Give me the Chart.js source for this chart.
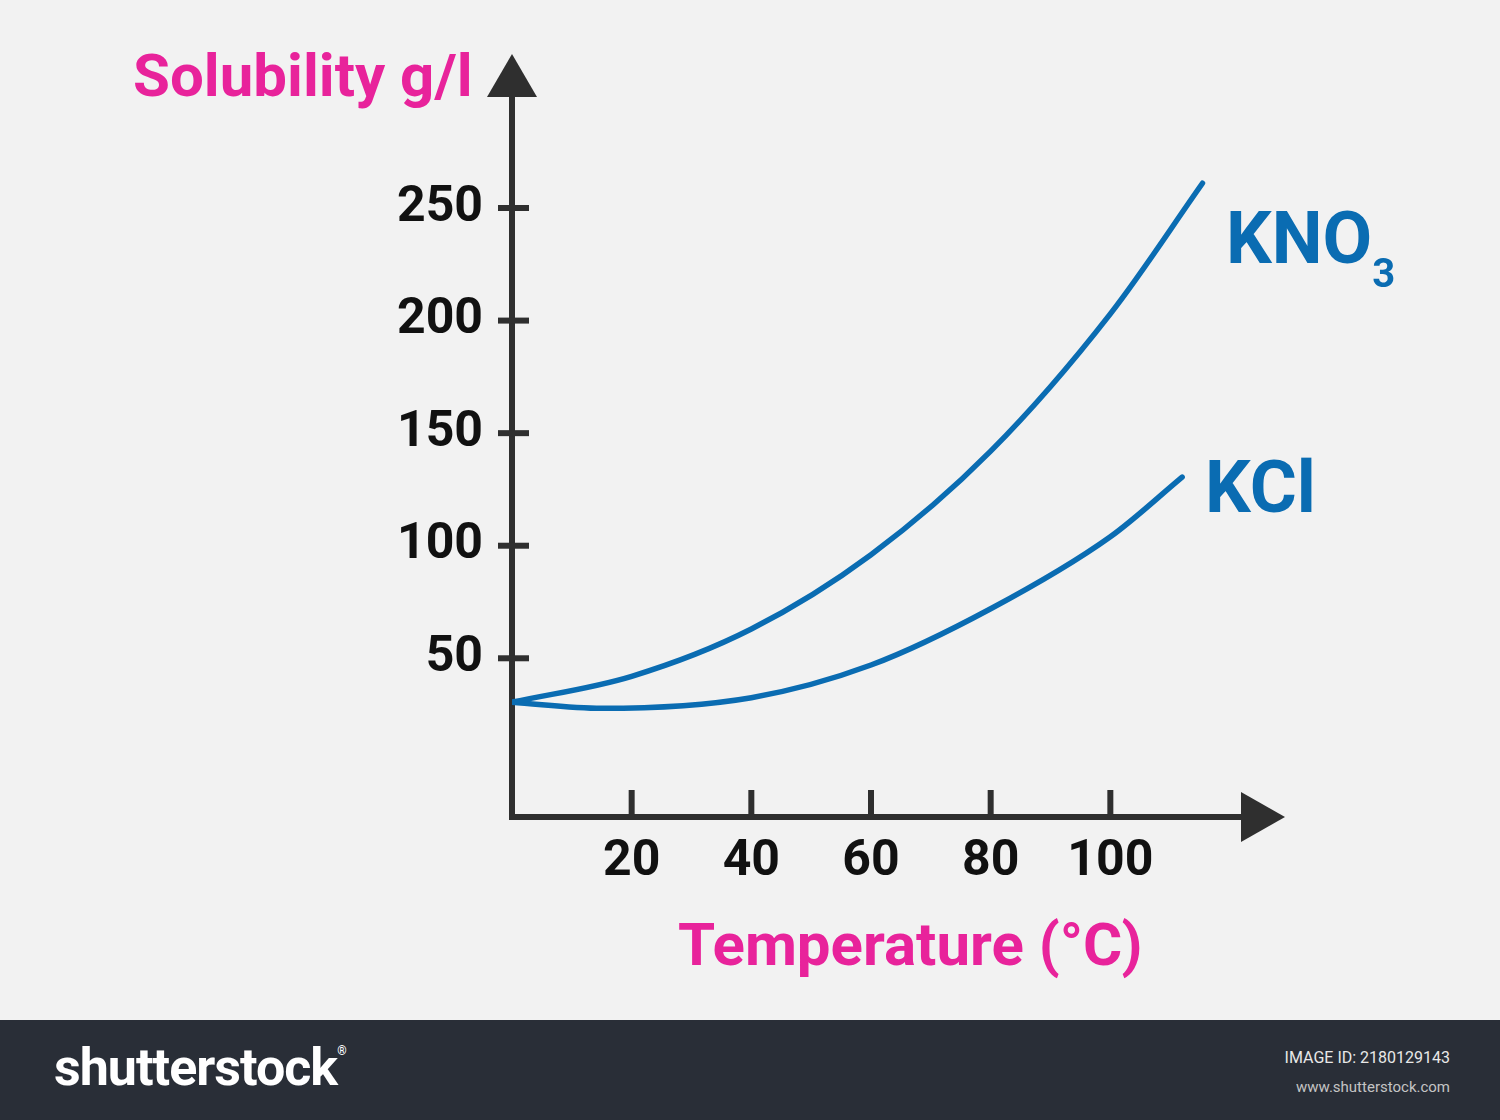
<!DOCTYPE html>
<html lang="en">
<head>
<meta charset="utf-8">
<title>Solubility curves</title>
<script src="https://cdn.jsdelivr.net/npm/chart.js@4.4.1/dist/chart.umd.min.js"></script>
<style>
    html, body {
        margin: 0;
        padding: 0;
        width: 1500px;
        height: 1120px;
        overflow: hidden;
        background: #f2f2f2;
        font-family: Roboto, "Noto Sans", sans-serif;
    }

    #quadro {
        position: relative;
        width: 1500px;
        height: 1020px;
    }

    #quadro canvas {
        position: absolute;
        left: 0;
        top: 0;
    }

    .rotulo {
        position: absolute;
        white-space: nowrap;
        font-weight: bold;
        line-height: 1;
    }

    .magenta { color: #e8239b; font-size: 60px; }
    .azul { color: #0a6cb2; font-size: 72px; }

    .sub3 {
        font-size: 40px;
        position: relative;
        top: 24px;
    }

    #rodape {
        position: relative;
        width: 1500px;
        height: 100px;
        background: #292e37;
        color: #fff;
    }

    #logo {
        position: absolute;
        left: 54px;
        top: 22px;
        font-size: 52px;
        font-weight: bold;
        letter-spacing: -1px;
        line-height: 1;
    }

    #logo sup { font-size: 12px; vertical-align: 30px; }

    .info {
        position: absolute;
        right: 50px;
        font-size: 16px;
        line-height: 1;
    }
</style>
</head>
<body>

<div id="quadro">
    <canvas id="graficoSolubilidade"></canvas>
    <div class="rotulo magenta" style="left:133px; top:46px;">Solubility g/l</div>
    <div class="rotulo magenta" style="left:678px; top:915px;">Temperature (°C)</div>
    <div class="rotulo azul" style="left:1226px; top:203px;">KNO<span class="sub3">3</span></div>
    <div class="rotulo azul" style="left:1205px; top:452px;">KCl</div>
</div>

<div id="rodape">
    <div id="logo">shutterstock<sup>®</sup></div>
    <div class="info" style="top:30px; color:#e8e8e8;">IMAGE ID: 2180129143</div>
    <div class="info" style="top:60px; color:#c4c4c4; font-size:15px;">www.shutterstock.com</div>
</div>

<script>
// ==========================================
// DADOS
// ==========================================
const kno3Temp = [0, 20, 40, 60, 80, 100, 115.4];
const kno3Sol  = [30.5, 42, 63, 96, 142, 203, 261];

const kclTemp = [0, 15, 40, 60, 80, 100, 112];
const kclSol  = [30.5, 27.8, 32.5, 47, 72, 104, 130.5];

const xTickValues = [20, 40, 60, 80, 100];
const yTickValues = [50, 100, 150, 200, 250];

const AZUL = "#0a6cb2";
const EIXO = "#2f2f2f";

document.addEventListener("DOMContentLoaded", function () {
    criarGrafico();
});

// ==========================================
// EIXOS COM SETAS (desenhados a partir das escalas)
// ==========================================
const eixosComSetas = {
    id: "eixosComSetas",
    beforeDatasetsDraw(chart) {
        const { ctx, chartArea, scales } = chart;
        const x0 = scales.x.getPixelForValue(0);
        const yb = chartArea.bottom;

        ctx.save();
        ctx.strokeStyle = EIXO;
        ctx.fillStyle = EIXO;
        ctx.lineWidth = 6;

        // eixo vertical
        ctx.beginPath();
        ctx.moveTo(x0, yb + 3);
        ctx.lineTo(x0, 95);
        ctx.stroke();

        // eixo horizontal
        ctx.beginPath();
        ctx.moveTo(x0 - 3, yb);
        ctx.lineTo(1244, yb);
        ctx.stroke();

        // seta de cima
        ctx.beginPath();
        ctx.moveTo(x0, 54);
        ctx.lineTo(x0 - 25, 97);
        ctx.lineTo(x0 + 25, 97);
        ctx.closePath();
        ctx.fill();

        // seta da direita
        ctx.beginPath();
        ctx.moveTo(1285, yb);
        ctx.lineTo(1241, yb - 25);
        ctx.lineTo(1241, yb + 25);
        ctx.closePath();
        ctx.fill();

        // marcas do eixo y
        yTickValues.forEach(function (v) {
            const py = scales.y.getPixelForValue(v);
            ctx.beginPath();
            ctx.moveTo(x0 - 14, py);
            ctx.lineTo(x0 + 17, py);
            ctx.stroke();
        });

        // marcas do eixo x
        xTickValues.forEach(function (v) {
            const px = scales.x.getPixelForValue(v);
            ctx.beginPath();
            ctx.moveTo(px, yb - 27);
            ctx.lineTo(px, yb);
            ctx.stroke();
        });

        ctx.restore();
    }
};

// ==========================================
// GRÁFICO
// ==========================================
function criarGrafico() {
    const canvas = document.getElementById("graficoSolubilidade");

    const fonteTicks = { family: "Roboto", size: 50, weight: "bold" };

    new Chart(canvas, {
        type: "line",
        data: {
            datasets: [
                {
                    label: "KNO3",
                    data: kno3Temp.map(function (t, i) { return { x: t, y: kno3Sol[i] }; }),
                    borderColor: AZUL,
                    borderWidth: 5.5,
                    borderCapStyle: "round",
                    pointRadius: 0,
                    cubicInterpolationMode: "monotone",
                    fill: false
                },
                {
                    label: "KCl",
                    data: kclTemp.map(function (t, i) { return { x: t, y: kclSol[i] }; }),
                    borderColor: AZUL,
                    borderWidth: 5.5,
                    borderCapStyle: "round",
                    pointRadius: 0,
                    cubicInterpolationMode: "monotone",
                    fill: false
                }
            ]
        },
        options: {
            responsive: true,
            maintainAspectRatio: false,
            animation: false,
            devicePixelRatio: 1,
            layout: {
                padding: { top: 163, right: 270, bottom: 0, left: 0 }
            },
            plugins: {
                legend: { display: false },
                tooltip: { enabled: false }
            },
            scales: {
                x: {
                    type: "linear",
                    min: 0,
                    max: 120,
                    border: { display: false },
                    grid: { display: false, drawTicks: false },
                    afterBuildTicks: function (scale) {
                        scale.ticks = xTickValues.map(function (v) { return { value: v }; });
                    },
                    afterFit: function (scale) {
                        scale.height = 203;
                    },
                    ticks: {
                        autoSkip: false,
                        maxRotation: 0,
                        padding: 15,
                        color: "#111111",
                        font: fonteTicks
                    }
                },
                y: {
                    type: "linear",
                    min: -20.5,
                    max: 270,
                    border: { display: false },
                    grid: { display: false, drawTicks: false },
                    afterBuildTicks: function (scale) {
                        scale.ticks = yTickValues.map(function (v) { return { value: v }; });
                    },
                    afterFit: function (scale) {
                        scale.width = 512;
                    },
                    ticks: {
                        padding: 29,
                        color: "#111111",
                        font: fonteTicks
                    }
                }
            }
        },
        plugins: [eixosComSetas]
    });
}
</script>
</body>
</html>
